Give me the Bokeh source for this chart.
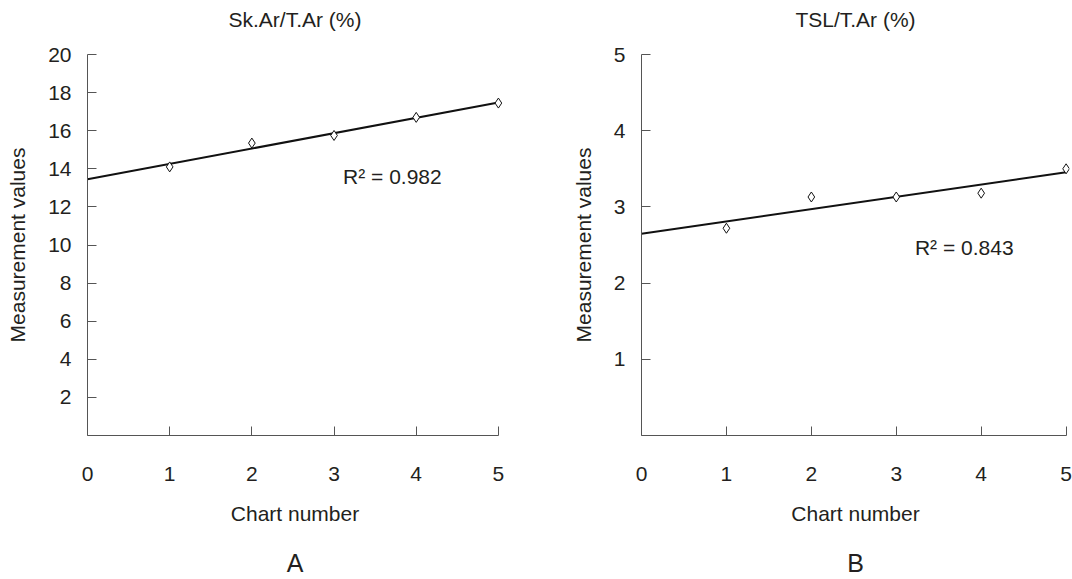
import numpy as np
from bokeh.plotting import figure
from bokeh.layouts import row
from bokeh.models import Label, FixedTicker, LinearAxis
from bokeh.embed import file_html
from bokeh.resources import INLINE

chart_number = [1, 2, 3, 4, 5]
sk_ar_values = [14.1, 15.35, 15.75, 16.7, 17.45]
tsl_values = [2.72, 3.13, 3.13, 3.18, 3.5]
x_ticks = [0, 1, 2, 3, 4, 5]
y_ticks_a = [2, 4, 6, 8, 10, 12, 14, 16, 18, 20]
y_ticks_b = [1, 2, 3, 4, 5]

FONT = "Liberation Sans"
TXT = "#231f20"
AX = "#555555"
FS = "21px"


def text_axis(label, size, standoff, bounds):
    ax = LinearAxis(ticker=FixedTicker(ticks=[]), axis_label=label, bounds=bounds)
    ax.axis_line_color = None
    ax.major_tick_line_color = None
    ax.minor_tick_line_color = None
    ax.major_tick_in = 0
    ax.major_tick_out = 0
    ax.minor_tick_in = 0
    ax.minor_tick_out = 0
    ax.major_label_standoff = 0
    ax.axis_label_standoff = standoff
    ax.axis_label_text_font = FONT
    ax.axis_label_text_font_size = size
    ax.axis_label_text_font_style = "normal"
    ax.axis_label_text_color = TXT
    return ax


def panel(title, panel_letter, ys, y_ticks, y_max, r2_text, r2_pos, text_bounds,
          border_left, border_right, frame_w_extra, width):
    p = figure(width=width, height=579, output_backend="svg", toolbar_location=None,
               x_range=(0, 5 + frame_w_extra), y_range=(0, y_max),
               min_border_left=border_left, min_border_right=border_right,
               min_border_top=54, min_border_bottom=143)
    p.outline_line_color = None
    p.xgrid.visible = False
    p.ygrid.visible = False
    p.background_fill_color = "white"
    p.border_fill_color = "white"

    # trend line
    k, b = np.polyfit(chart_number, ys, 1)
    xs_line = [0, 5]
    p.line(xs_line, [b + k * x for x in xs_line], line_color="#111111", line_width=2)
    p.scatter(chart_number, ys, marker="diamond", size=10, fill_color="white",
              line_color="#111111", line_width=1)

    p.add_layout(Label(x=r2_pos[0], y=r2_pos[1], text=r2_text, text_font=FONT,
                       text_font_size=FS, text_color=TXT, text_baseline="middle",
                       text_align="left"))

    for ax in (p.xaxis[0], p.yaxis[0]):
        ax.axis_line_color = AX
        ax.major_tick_line_color = AX
        ax.minor_tick_line_color = None
        ax.major_label_text_font = FONT
        ax.major_label_text_font_size = FS
        ax.major_label_text_color = TXT
        ax.axis_label_text_font = FONT
        ax.axis_label_text_font_size = FS
        ax.axis_label_text_font_style = "normal"
        ax.axis_label_text_color = TXT
        ax.major_tick_out = 0
        ax.major_tick_in = 9

    p.xaxis[0].bounds = (0, 5)
    p.xaxis[0].ticker = FixedTicker(ticks=x_ticks)
    p.xaxis[0].major_label_standoff = 31
    p.xaxis[0].axis_label = "Chart number"
    p.xaxis[0].axis_label_standoff = 18

    p.yaxis[0].bounds = (0, y_max)
    p.yaxis[0].ticker = FixedTicker(ticks=y_ticks)
    p.yaxis[0].major_label_standoff = 16
    p.yaxis[0].axis_label = "Measurement values"
    p.yaxis[0].axis_label_standoff = 16

    # panel title above the frame and panel letter below the axis
    p.add_layout(text_axis(title, FS, 24, text_bounds), "above")
    p.add_layout(text_axis(panel_letter, "25px", 21, text_bounds), "below")
    return p


pa = panel("Sk.Ar/T.Ar (%)", "A", sk_ar_values, y_ticks_a, 20, "R\u00b2 = 0.982",
           (3.11, 13.6), (0, 5), 87, 34, 0.05, 536)
pb = panel("TSL/T.Ar (%)", "B", tsl_values, y_ticks_b, 5, "R\u00b2 = 0.843",
           (3.22, 2.47), (0.25, 5), 105, 3, 0.04, 536)

layout = row(pa, pb)
open("out.html", "w").write(file_html(layout, INLINE))
